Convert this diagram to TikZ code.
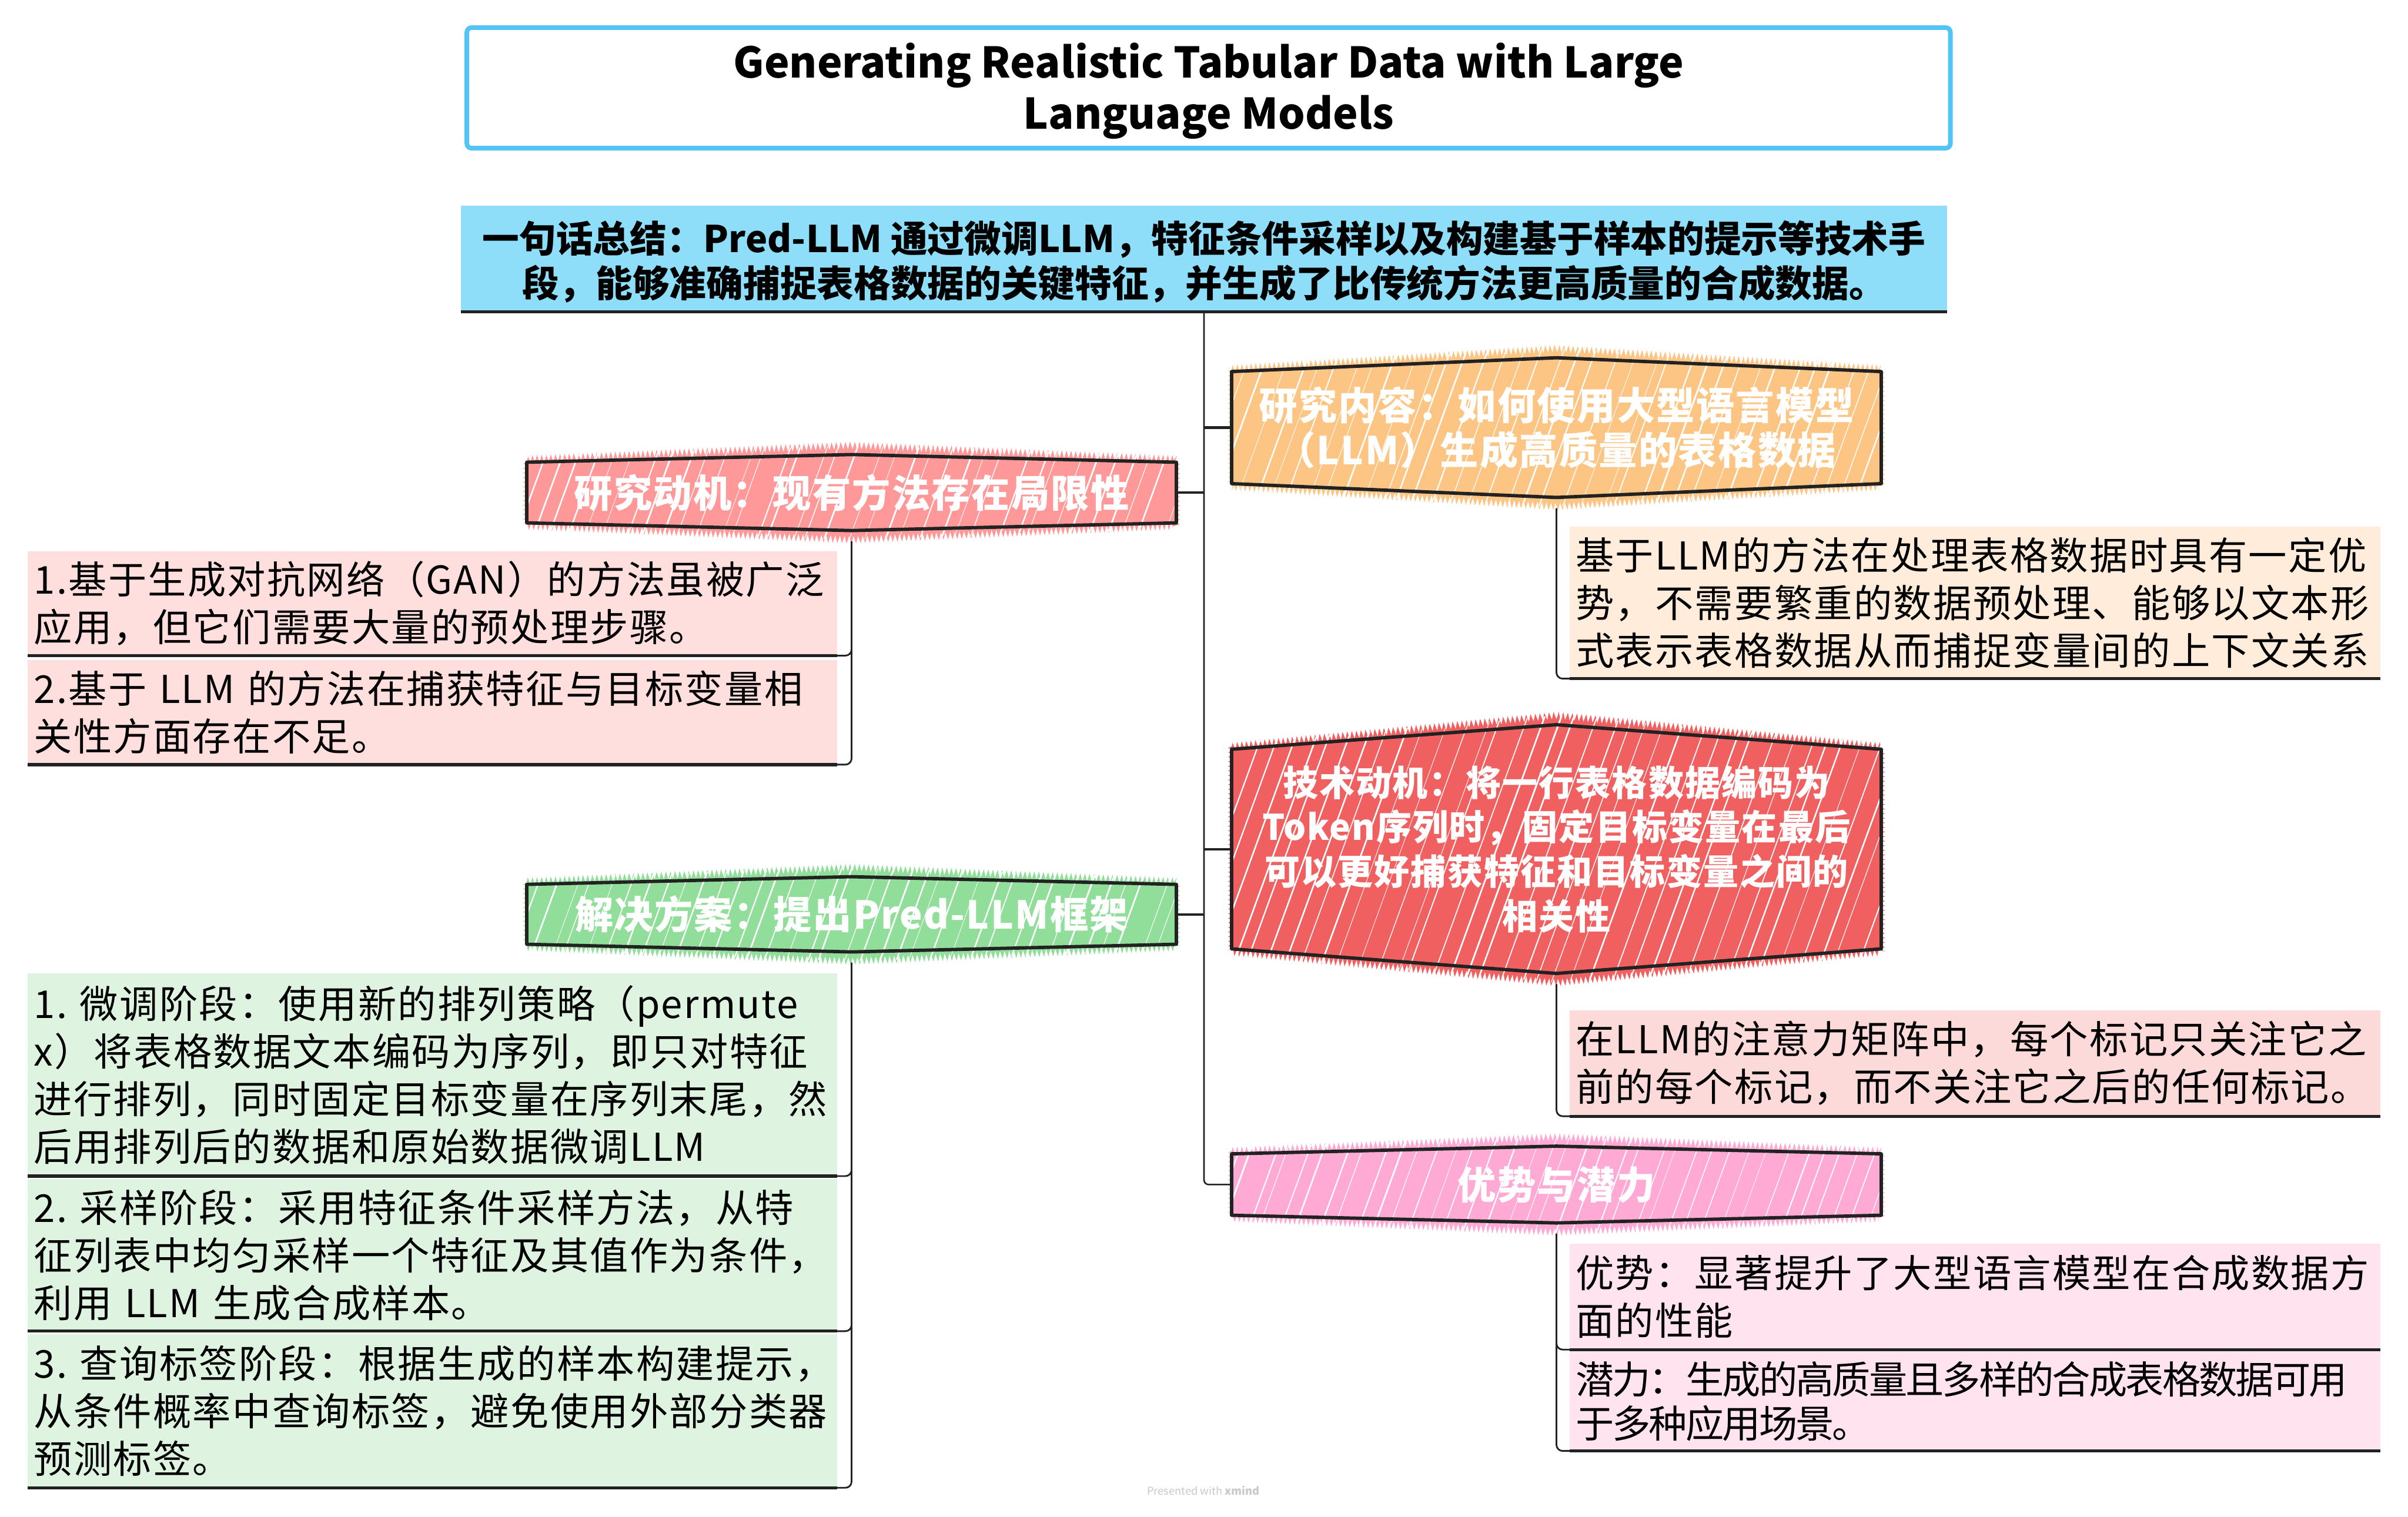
\documentclass[tikz,border=0pt]{standalone}
\usepackage{fontspec}
\setmainfont{Noto Sans CJK SC}
\newfontfamily\leaffont{Noto Sans CJK SC}[LetterSpace=3.5]
\newfontfamily\tightfont{Noto Sans CJK SC}[LetterSpace=-4.5]
\newfontfamily\hexfont{Noto Sans CJK SC}[LetterSpace=3.5]
\usetikzlibrary{calc,backgrounds,decorations.pathmorphing}
\definecolor{titleblue}{RGB}{82,196,246}
\definecolor{sumblue}{RGB}{142,222,249}
\definecolor{darkline}{RGB}{34,34,34}
\definecolor{motfill}{RGB}{255,153,153}
\definecolor{motleaf}{RGB}{255,222,222}
\definecolor{solfill}{RGB}{145,222,154}
\definecolor{solleaf}{RGB}{222,244,224}
\definecolor{confill}{RGB}{253,197,131}
\definecolor{conleaf}{RGB}{255,236,218}
\definecolor{techfill}{RGB}{240,96,96}
\definecolor{techleaf}{RGB}{252,218,218}
\definecolor{advfill}{RGB}{255,170,213}
\definecolor{advleaf}{RGB}{255,228,240}
\definecolor{footgray}{RGB}{200,200,200}
\pgfmathsetseed{17}
\newcommand\hexdraw[3]{%
  \coordinate (#1-b) at ($(#1.south)+(0,#3+7)$);
  \begin{scope}[on background layer]
    \fill[#2, decorate, decoration={zigzag, segment length=3pt, amplitude=2.5pt}]
      ($(#1.north west)+(0,-2)$) -- ($(#1.north)+(0,-#3-6)$) -- ($(#1.north east)+(0,-2)$) --
      ($(#1.south east)+(0,2)$) -- ($(#1.south)+(0,#3+6)$) -- ($(#1.south west)+(0,2)$) -- cycle;
    \fill[#2] (#1.north west) -- ($(#1.north)+(0,-#3)$) -- (#1.north east) --
      (#1.south east) -- ($(#1.south)+(0,#3)$) -- (#1.south west) -- cycle;
    \begin{scope}
      \clip ($(#1.north west)+(0,-4)$) -- ($(#1.north)+(0,-#3-6)$) -- ($(#1.north east)+(0,-4)$) --
        ($(#1.south east)+(0,4)$) -- ($(#1.south)+(0,#3+6)$) -- ($(#1.south west)+(0,4)$) -- cycle;
      \path (#1.west); \pgfgetlastxy{\hxa}{\hya}
      \foreach \k in {0,...,68} {
        \pgfmathsetmacro\hx{\hxa - 380 + \k*12 + 7*rnd}
        \pgfmathsetmacro\hw{0.3+0.8*rnd}
        \draw[white, line width=\hw pt] (\hx,1000) -- ++(364,-1000);
      }
    \end{scope}
    \draw[darkline, line width=2.2pt, line join=round]
      (#1.north west) -- ($(#1.north)+(0,-#3)$) -- (#1.north east) --
      (#1.south east) -- ($(#1.south)+(0,#3)$) -- (#1.south west) -- cycle;
  \end{scope}%
}
\begin{document}
\begin{tikzpicture}[x=1pt,y=-1pt,
  every node/.style={inner sep=0pt, outer sep=0pt},
  hexnode/.style={minimum width=423pt, text=white, align=center, font=\hexfont\bfseries\fontsize{25}{29}\selectfont},
  leafbox/.style={anchor=north west, inner xsep=4pt, inner ysep=0pt, align=left, font=\leaffont\fontsize{25}{31}\selectfont, text=black},
  leftleaf/.style={leafbox, text width=519pt},
  rightleaf/.style={leafbox, text width=520pt},
  leafline/.style={draw=darkline, line width=2pt},
  stub/.style={draw=darkline, line width=1.6pt},
  trunkline/.style={draw=darkline, line width=1pt},
  twig/.style={draw=darkline, line width=1.1pt, rounded corners=4pt}
]
\useasboundingbox (0,0) rectangle (1568,988);

% title
\node[draw=titleblue, line width=3pt, rounded corners=3pt, fill=white, anchor=north west,
      minimum width=966pt, minimum height=78.5pt] (title) at (304,18) {};
\node[align=center, font=\bfseries\fontsize{27.5}{33}\selectfont] (titletext)
  at ($(title.center)+(0,2)$)
  {Generating Realistic Tabular Data with Large\\Language Models};

% summary
\node[fill=sumblue, anchor=north west, minimum width=968pt, minimum height=69pt] (sum) at (300,134) {};
\node[align=center, font=\bfseries\fontsize{24}{29}\selectfont] (sumtext) at ($(sum.center)+(0,2)$)
  {一句话总结：Pred-LLM 通过微调LLM，特征条件采样以及构建基于样本的提示等技术手\\段，能够准确捕捉表格数据的关键特征，并生成了比传统方法更高质量的合成数据。};
\draw[leafline] (sum.south west) -- (sum.south east);

% left main nodes
\node[hexnode, minimum height=39.5pt] (mot) at (554.5,320.8) {研究动机：现有方法存在局限性};
\hexdraw{mot}{motfill}{5}
\node[hexnode, minimum height=39pt] (sol) at (554.5,595.5) {解决方案：提出Pred-LLM框架};
\hexdraw{sol}{solfill}{5}

% right main nodes
\node[hexnode, minimum height=73pt] (con) at (1013.5,278.5) {研究内容：如何使用大型语言模型\\（LLM）生成高质量的表格数据};
\hexdraw{con}{confill}{9}
\node[hexnode, minimum height=130pt, font=\hexfont\bfseries\fontsize{23}{29}\selectfont] (tech) at (1013.5,553) {技术动机：将一行表格数据编码为\\Token序列时，固定目标变量在最后\\可以更好捕获特征和目标变量之间的\\相关性};
\hexdraw{tech}{techfill}{16}
\node[hexnode, minimum height=40pt] (adv) at (1013.5,771.5) {优势与潜力};
\hexdraw{adv}{advfill}{5}

% left leaves
\node[leftleaf, fill=motleaf, minimum height=68pt] (m1) at (18,359)
  {1.基于生成对抗网络（GAN）的方法虽被广泛\\应用，但它们需要大量的预处理步骤。};
\draw[leafline] (m1.south west) -- (m1.south east);
\node[leftleaf, fill=motleaf, minimum height=68pt] (m2) at (18,430)
  {2.基于~LLM~的方法在捕获特征与目标变量相\\关性方面存在不足。};
\draw[leafline] (m2.south west) -- (m2.south east);

\node[leftleaf, fill=solleaf, minimum height=132pt] (s1) at (18,634)
  {1.~微调阶段：使用新的排列策略（permute\\x）将表格数据文本编码为序列，即只对特征\\进行排列，同时固定目标变量在序列末尾，然\\后用排列后的数据和原始数据微调LLM};
\draw[leafline] (s1.south west) -- (s1.south east);
\node[leftleaf, fill=solleaf, minimum height=99pt] (s2) at (18,768)
  {2.~采样阶段：采用特征条件采样方法，从特\\征列表中均匀采样一个特征及其值作为条件，\\利用~LLM~生成合成样本。};
\draw[leafline] (s2.south west) -- (s2.south east);
\node[leftleaf, fill=solleaf, minimum height=100pt] (s3) at (18,869)
  {3.~查询标签阶段：根据生成的样本构建提示，\\从条件概率中查询标签，避免使用外部分类器\\预测标签。};
\draw[leafline] (s3.south west) -- (s3.south east);

% right leaves
\node[rightleaf, fill=conleaf, minimum height=99pt] (c1) at (1022,343)
  {基于LLM的方法在处理表格数据时具有一定优\\势，不需要繁重的数据预处理、能够以文本形\\式表示表格数据从而捕捉变量间的上下文关系};
\draw[leafline] (c1.south west) -- (c1.south east);
\node[rightleaf, fill=techleaf, minimum height=69pt] (t1) at (1022,658)
  {在LLM的注意力矩阵中，每个标记只关注它之\\前的每个标记，而不关注它之后的任何标记。};
\draw[leafline] (t1.south west) -- (t1.south east);
\node[rightleaf, fill=advleaf, minimum height=69pt] (a1) at (1022,810)
  {优势：显著提升了大型语言模型在合成数据方\\面的性能};
\draw[leafline] (a1.south west) -- (a1.south east);
\node[rightleaf, fill=advleaf, minimum height=64.5pt, font=\tightfont\fontsize{25}{29}\selectfont] (a2) at (1022,880.5)
  {潜力：生成的高质量且多样的合成表格数据可用\\于多种应用场景。};
\draw[leafline] (a2.south west) -- (a2.south east);

% trunk and stubs
\draw[trunkline, rounded corners=3pt] (sum.south) |- (adv.west);
\draw[stub] (sum.south |- mot.east) -- (mot.east);
\draw[stub] (sum.south |- sol.east) -- (sol.east);
\draw[stub] (sum.south |- con.west) -- (con.west);
\draw[stub] (sum.south |- tech.west) -- (tech.west);

% twigs to leaves
\draw[twig] (mot-b) |- (m1.south east);
\draw[twig] (mot-b) |- (m2.south east);
\draw[twig] (sol-b) |- (s1.south east);
\draw[twig] (sol-b) |- (s2.south east);
\draw[twig] (sol-b) |- (s3.south east);
\draw[twig] (con-b) |- (c1.south west);
\draw[twig] (tech-b) |- (t1.south west);
\draw[twig] (adv-b) |- (a1.south west);
\draw[twig] (adv-b) |- (a2.south west);

% footer
\node[text=footgray, font=\fontsize{7}{8}\selectfont] (foot) at (783.5,971) {Presented with \textbf{xmind}};
\end{tikzpicture}
\end{document}
